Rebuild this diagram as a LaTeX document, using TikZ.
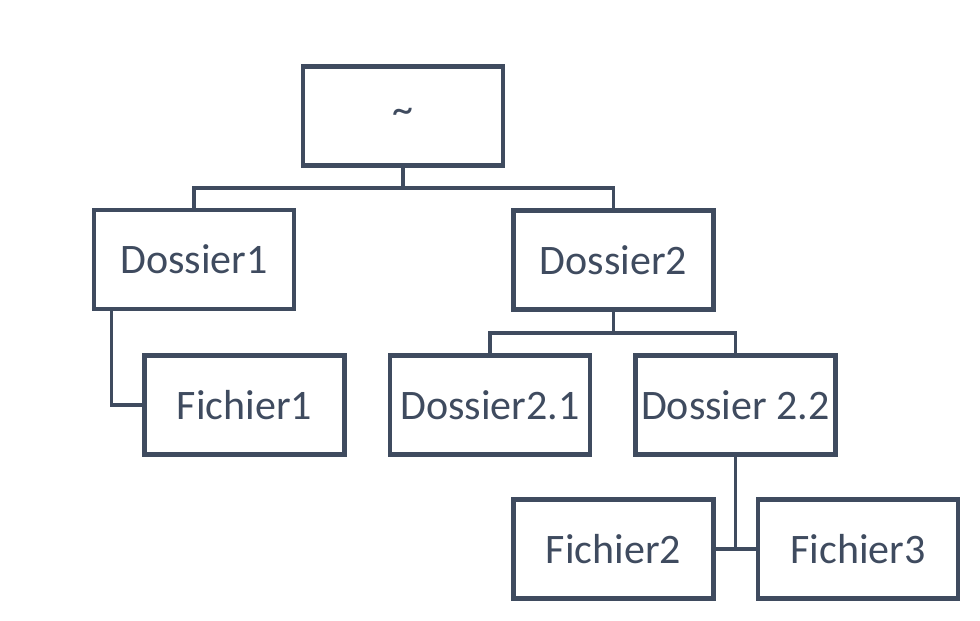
\documentclass[tikz,border=0pt]{standalone}
\usepackage{fontspec}
\setmainfont{Carlito}
\definecolor{slate}{HTML}{3F4B5F}
\tikzset{
    dossier/.style={draw=slate,line width=2.4pt,minimum width=100pt,minimum height=49.5pt,
        inner sep=0pt,text=slate,font=\fontsize{21}{25}\selectfont},
    lien/.style={draw=slate,line width=1.8pt}
}

\begin{document}
\begin{tikzpicture}[x=0.5pt,y=-0.5pt,line cap=butt,line join=miter]
    \useasboundingbox (0,0) rectangle (980,621);
    \node[dossier] (root) at (403,116) {\textasciitilde};
    \node[dossier] (dossierA) at (194,259.5) {Dossier1};
    \node[dossier] (dossierB) at (613.5,260) {Dossier2};
    \node[dossier] (fichierA) at (244.5,405) {Fichier1};
    \node[dossier] (dossierBA) at (490,405) {Dossier2.1};
    \node[dossier] (dossierBB) at (735.5,405) {Dossier 2.2};
    \node[dossier] (fichierB) at (613.5,549) {Fichier2};
    \node[dossier] (fichierC) at (858,549) {Fichier3};
    \draw[lien] (root.south) -- ++(0,20) coordinate (r0) -| (dossierA.north);
    \draw[lien] (r0) -| (dossierB.north);
    \draw[lien] ([xshift=10pt]dossierA.south west) |- (fichierA.west);
    \draw[lien] (dossierB.south) -- ++(0,21) coordinate (d0) -| (dossierBA.north);
    \draw[lien] (d0) -| (dossierBB.north);
    \draw[lien] (dossierBB.south) -- (dossierBB.south |- fichierB.east);
    \draw[lien] (fichierB.east) -- (fichierC.west);
\end{tikzpicture}
\end{document}
